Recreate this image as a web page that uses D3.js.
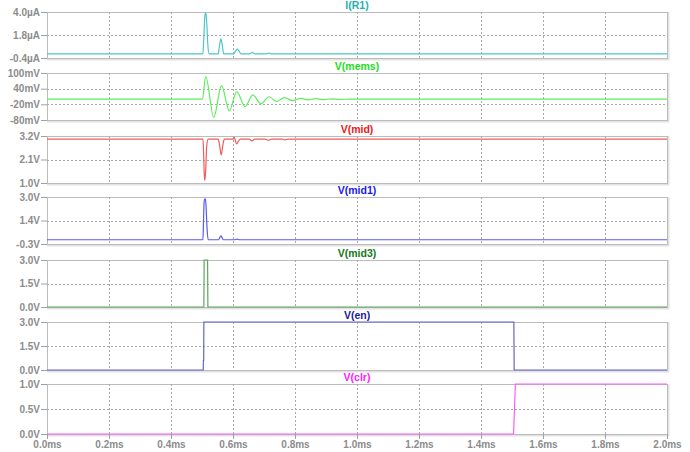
<!DOCTYPE html>
<html>
<head>
<meta charset="utf-8">
<script src="https://cdn.jsdelivr.net/npm/d3@7"></script>
<style>
  body { margin: 0; background: #fff; }
  svg { display: block; font-family: "Liberation Sans", Arial, sans-serif; }
  .tick text { fill: #8c8c8c; font-size: 10px; font-weight: bold; }
  .tick line { stroke: #a0a0a0; }
  .domain { display: none; }
</style>
</head>
<body>
<div id="chart"></div>
<script>
// time axis (ms)
const timeTicks = [0, 0.2, 0.4, 0.6, 0.8, 1.0, 1.2, 1.4, 1.6, 1.8, 2.0];

// pane titles and y axes
const traceNames = ["I(R1)", "V(mems)", "V(mid)", "V(mid1)", "V(mid3)", "V(en)", "V(clr)"];
const yDomains = [[-0.4, 4.0], [-80, 100], [1.0, 3.2], [-0.3, 3.0], [0, 3.0], [0, 3.0], [0, 1.0]];
const yTickValues = [
  [-0.4, 1.8, 4.0],
  [-80, -20, 40, 100],
  [1.0, 2.1, 3.2],
  [-0.3, 1.35, 3.0],
  [0, 1.5, 3.0],
  [0, 1.5, 3.0],
  [0, 0.5, 1.0]
];
const yTickLabels = [
  ["-0.4µA", "1.8µA", "4.0µA"],
  ["-80mV", "-20mV", "40mV", "100mV"],
  ["1.0V", "2.1V", "3.2V"],
  ["-0.3V", "1.4V", "3.0V"],
  ["0.0V", "1.5V", "3.0V"],
  ["0.0V", "1.5V", "3.0V"],
  ["0.0V", "0.5V", "1.0V"]
];

// I(R1) in µA
const r1Time = [0, 0.503, 0.506, 0.509, 0.511, 0.513, 0.516, 0.519, 0.523, 0.552, 0.557, 0.561, 0.565, 0.570, 0.603, 0.609, 0.614, 0.619, 0.625, 0.654, 0.662, 0.670, 0.706, 0.715, 0.724, 2.0];
const r1Value = [0, 0, 1.6, 3.5, 3.9, 3.8, 2.6, 0.8, 0, 0, 0.9, 1.42, 0.9, 0, 0, 0.3, 0.45, 0.3, 0, 0, 0.14, 0, 0, 0.07, 0, 0];

// V(mems) in mV
const memsTime = [0, 0.501, 0.512, 0.538, 0.563, 0.588, 0.612, 0.639, 0.664, 0.690, 0.716, 0.741, 0.766, 0.792, 0.817, 0.842, 0.867, 0.892, 0.917, 0.942, 0.975, 1.1, 2.0];
const memsValue = [0, 0, 86, -70, 52, -45, 29, -29, 16, -18, 9, -9, 6, -6, 3, -3, 2, -2, 1, -1, 0, 0, 0];

// V(mid)
const midTime = [0, 0.503, 0.505, 0.507, 0.509, 0.512, 0.515, 0.520, 0.552, 0.557, 0.562, 0.567, 0.572, 0.600, 0.605, 0.608, 0.612, 0.617, 0.624, 0.652, 0.661, 0.670, 0.704, 0.714, 0.724, 0.758, 0.768, 0.778, 2.0];
const midValue = [3.05, 3.05, 2.5, 1.5, 1.12, 1.6, 2.7, 3.05, 3.05, 2.75, 2.31, 2.75, 3.05, 3.05, 3.12, 2.95, 2.83, 2.95, 3.05, 3.05, 2.98, 3.05, 3.05, 3.0, 3.05, 3.05, 3.02, 3.05, 3.05];

// V(mid1)
const mid1Time = [0, 0.503, 0.505, 0.507, 0.509, 0.511, 0.513, 0.516, 0.520, 0.553, 0.561, 0.569, 0.605, 0.613, 0.621, 2.0];
const mid1Value = [0, 0, 1.4, 2.7, 2.87, 2.85, 2.4, 0.9, 0, 0, 0.27, 0, 0, 0.04, 0, 0];

// V(mid3)
const mid3Time = [0, 0.506, 0.507, 0.518, 0.519, 2.0];
const mid3Value = [0, 0, 3.0, 3.0, 0, 0];

// V(en)
const enTime = [0, 0.504, 0.5045, 0.5055, 0.506, 1.506, 1.507, 2.0];
const enValue = [0, 0, 0.6, 0.6, 3.0, 3.0, 0, 0];

// V(clr)
const clrTime = [0, 1.505, 1.511, 2.0];
const clrValue = [0, 0, 1.0, 1.0];

const traceTimes = [r1Time, memsTime, midTime, mid1Time, mid3Time, enTime, clrTime];
const traceValues = [r1Value, memsValue, midValue, mid1Value, mid3Value, enValue, clrValue];
const smoothTrace = [true, true, true, true, false, false, false];
const lineColors = ["#4cc6c6", "#5aee5a", "#f05a5a", "#5a5aee", "#5aa85a", "#6464cc", "#ff5cff"];
const titleColors = ["#1fb2b2", "#22dd22", "#ee1818", "#1818ee", "#187818", "#1a1a96", "#ff20ff"];

const width = 690, height = 452;
const left = 47, right = 667;
const paneTops = [12, 73, 136, 197, 260, 322, 384];
const paneBottoms = [58, 120, 183, 244, 307, 370, 434];

const svg = d3.select("#chart").append("svg")
  .attr("width", width)
  .attr("height", height);

const x = d3.scaleLinear().domain([0, 2]).range([left, right]);

traceNames.forEach((name, i) => {
  const top = paneTops[i], bottom = paneBottoms[i];
  const y = d3.scaleLinear().domain(yDomains[i]).range([bottom, top]);
  const g = svg.append("g");

  // frame
  g.append("line").attr("x1", left).attr("x2", right + 2).attr("y1", bottom + 1.5).attr("y2", bottom + 1.5)
    .attr("stroke", "#e2e2e2").attr("stroke-width", 2);
  g.append("line").attr("x1", right + 1.5).attr("x2", right + 1.5).attr("y1", top).attr("y2", bottom + 2)
    .attr("stroke", "#e2e2e2").attr("stroke-width", 2);
  g.append("rect").attr("x", left + 0.5).attr("y", top + 0.5)
    .attr("width", right - left).attr("height", bottom - top)
    .attr("fill", "none").attr("stroke", "#bcbcbc");

  // grid
  g.append("g").selectAll("line")
    .data(timeTicks.slice(1, -1))
    .join("line")
    .attr("x1", d => Math.round(x(d)) + 0.5).attr("x2", d => Math.round(x(d)) + 0.5)
    .attr("y1", top).attr("y2", bottom)
    .attr("stroke", "#a8a8a8").attr("stroke-dasharray", "2,2");
  g.append("g").selectAll("line")
    .data(yTickValues[i].slice(1, -1))
    .join("line")
    .attr("x1", left).attr("x2", right)
    .attr("y1", d => Math.round(y(d)) + 0.5).attr("y2", d => Math.round(y(d)) + 0.5)
    .attr("stroke", "#a8a8a8").attr("stroke-dasharray", "2,2");

  // y axis
  g.append("g")
    .attr("transform", `translate(${left},0)`)
    .call(d3.axisLeft(y).tickValues(yTickValues[i])
      .tickFormat((d, k) => yTickLabels[i][k]).tickSize(6).tickPadding(1));

  // title
  g.append("text")
    .attr("x", (left + right) / 2).attr("y", top - 3)
    .attr("text-anchor", "middle")
    .attr("font-size", "10.5px").attr("font-weight", "bold")
    .attr("fill", titleColors[i])
    .text(name);

  // trace
  const clipId = "clip" + i;
  svg.append("clipPath").attr("id", clipId)
    .append("rect").attr("x", left).attr("y", top - 1)
    .attr("width", right - left + 1).attr("height", bottom - top + 2);

  const line = d3.line()
    .x(d => x(d[0]))
    .y(d => y(d[1]))
    .curve(smoothTrace[i] ? d3.curveMonotoneX : d3.curveLinear);

  g.append("path")
    .datum(d3.zip(traceTimes[i], traceValues[i]))
    .attr("clip-path", `url(#${clipId})`)
    .attr("fill", "none")
    .attr("stroke", lineColors[i])
    .attr("stroke-width", 1.2)
    .attr("d", line);
});

// x axis on the last pane
svg.append("g")
  .attr("transform", `translate(0,${paneBottoms[paneBottoms.length - 1]})`)
  .call(d3.axisBottom(x).tickValues(timeTicks)
    .tickFormat(d => d.toFixed(1) + "ms").tickSize(5).tickPadding(2));
</script>
</body>
</html>
